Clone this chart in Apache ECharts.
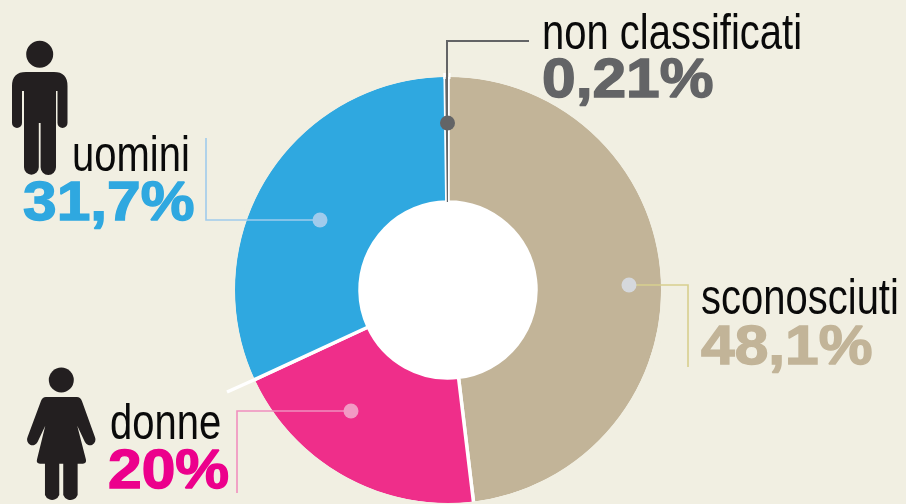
<!DOCTYPE html>
<html>
<head>
<meta charset="utf-8">
<style>html,body{margin:0;padding:0;background:#f1efe2}#c{width:906px;height:504px}</style>
<script src="https://cdn.jsdelivr.net/npm/echarts@6/dist/echarts.min.js"></script>
</head>
<body>
<div id="c"></div>
<script>
var categories = ['sconosciuti', 'donne', 'uomini', 'non classificati'];
var values = [48.1, 20, 31.7, 0.21];
var valueLabels = ['48,1%', '20%', '31,7%', '0,21%'];
var sliceColors = ['#c2b498', '#ef2e8a', '#2fa8e0', '#636466'];
var valueColors = ['#c2b498', '#ec008c', '#2fa8e0', '#636466'];

var BG = '#f1efe2';
var SANS = '"Liberation Sans",Arial,sans-serif';

function name(i, x, base) {
  return {type:'text', z:20, x:x, y:base-40, scaleX:0.8,
    style:{text:categories[i], x:0, y:0, fill:'#0a0a0a', font:'50px '+SANS}};
}
function val(i, x, base) {
  return {type:'text', z:20, x:x, y:base-44.5, scaleX:1.1,
    style:{text:valueLabels[i], x:0, y:0, fill:valueColors[i], stroke:valueColors[i], lineWidth:1.4, font:'bold 55px '+SANS}};
}
function leader(pts, color, w) {
  return {type:'polyline', z:15, shape:{points:pts}, style:{stroke:color, lineWidth:w||1.6, fill:'none'}};
}
function dot(x, y, color) {
  return {type:'circle', z:16, shape:{cx:x, cy:y, r:7.5}, style:{fill:color}};
}
var manPath = 'M12 86Q12 72 26 72L54 72Q67.5 72 67.5 86L67.5 123A5 5 0 0 1 57.5 123L57.5 91L56 91L56 167.5A7.7 7.7 0 0 1 40.6 167.5L40.6 123L38.8 123L38.8 167.5A7.4 7.4 0 0 1 24 167.5L24 91L22 91L22 123A5 5 0 0 1 12 123Z';
var womanPath = 'M46 397L77 397Q80.5 397 82 401L95 436A5.5 5.5 0 0 1 85 441L77.3 425L86 458Q86.8 462 83 462L77.7 462L77.7 492.5A7.7 7.7 0 0 1 63.3 492.5L63.3 462L59.3 462L59.3 492.5A7.7 7.7 0 0 1 45 492.5L45 462L40 462Q36 462 37 458L45.3 425L37.6 441A5.5 5.5 0 0 1 27.6 436L41 401Q42.5 397 46 397Z';

var option = {
  backgroundColor: BG,
  animation: false,
  series: [
    {type:'pie', z:1, silent:true, radius:[0, 89], center:[448,290], label:{show:false}, labelLine:{show:false},
     data:[{value:1, itemStyle:{color:'#ffffff'}}]},
    {type:'pie', z:2, silent:true, radius:[88, 215], center:[448,290], startAngle:90, clockwise:true, sort:null,
     label:{show:false}, labelLine:{show:false},
     itemStyle:{borderColor:'#ffffff', borderWidth:3.5},
     data:categories.map(function(c,i){
       return {name:c, value:values[i], itemStyle:{color:sliceColors[i], borderWidth:i===3?0:3.5}};
     })},
    {type:'pie', z:3, silent:true, radius:[213, 219], center:[448,290], label:{show:false}, labelLine:{show:false},
     data:[{value:1, itemStyle:{color:BG}}]},
    {type:'custom', z:4, coordinateSystem:'none', silent:true, data:[0],
     renderItem:function(){
       return {type:'group', children:[
         {type:'path', shape:{pathData:manPath, layout:'cover', x:12, y:72, width:55.5, height:103}, style:{fill:'#231f20'}},
         {type:'path', shape:{pathData:womanPath, layout:'cover', x:27, y:397, width:68.5, height:103}, style:{fill:'#231f20'}}
       ]};
     }}
  ],
  graphic: {elements: [
    {type:'line', z:10, shape:{x1:256, y1:379, x2:227, y2:392}, style:{stroke:'#ffffff', lineWidth:3.5}},
    {type:'line', z:10, shape:{x1:444.5, y1:73, x2:444.5, y2:79}, style:{stroke:'#ffffff', lineWidth:2.5}},
    {type:'line', z:10, shape:{x1:449.7, y1:73, x2:449.7, y2:79}, style:{stroke:'#ffffff', lineWidth:1.6}},
    {type:'circle', z:14, shape:{cx:39.7, cy:54.3, r:13.5}, style:{fill:'#231f20'}},
    {type:'circle', z:14, shape:{cx:61.3, cy:380, r:12.5}, style:{fill:'#231f20'}},
    leader([[206,138],[206,220],[320,220]], '#a0cbec'), dot(320,220,'#a0cbec'),
    leader([[237,493],[237,411],[351,411]], '#f08fbe'), dot(351,411,'#f29ac4'),
    leader([[529,41],[447,41],[447,123]], '#636466', 2), dot(447.5,123,'#636466'),
    leader([[632,285],[688,285],[688,367]], '#d8cf8e'), dot(629,285,'#d5d8dc'),
    name(2,72,172), val(2,23,222),
    name(1,110,440), val(1,108,490),
    name(3,542,50), val(3,542,99),
    name(0,701,315), val(0,701,366)
  ]}
};
var chart = echarts.init(document.getElementById('c'), null, {renderer:'canvas'});
chart.setOption(option);
</script>
</body>
</html>
